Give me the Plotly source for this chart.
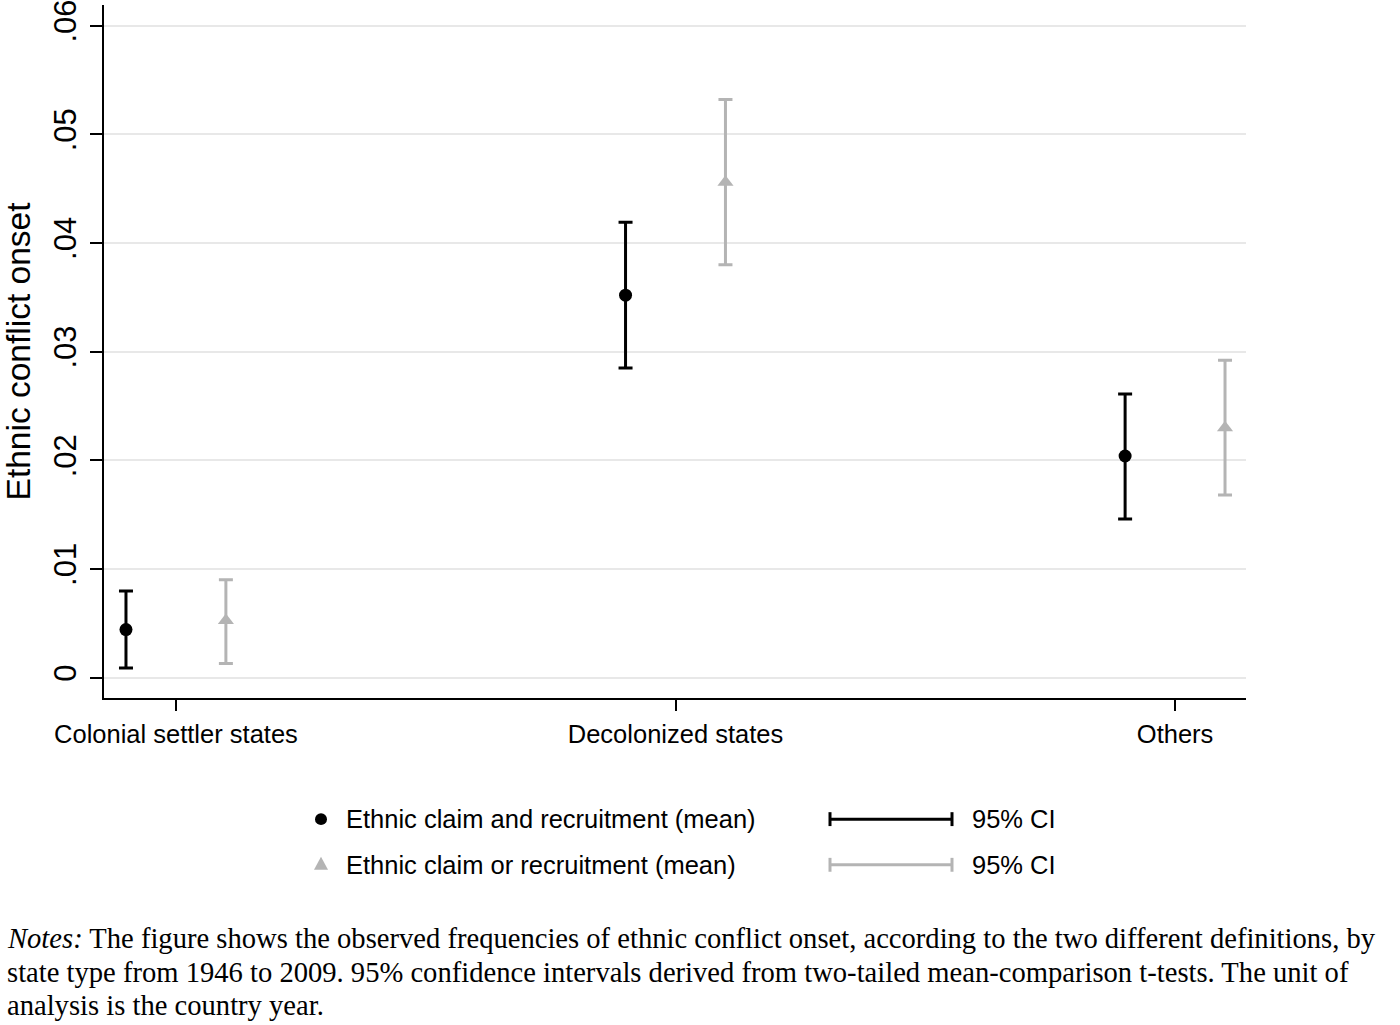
import plotly.graph_objects as go

# ---------------- data ----------------
categories = ["Colonial settler states", "Decolonized states", "Others"]
cat_pos = [1, 2, 3]
offset = 0.1

and_mean = [0.00443, 0.0352, 0.0204]
and_lo = [0.0009, 0.0285, 0.0146]
and_hi = [0.00797, 0.0419, 0.0261]

or_mean = [0.00526, 0.0456, 0.0230]
or_lo = [0.0013, 0.0380, 0.0168]
or_hi = [0.0090, 0.0532, 0.0292]

y_ticks = [0, 0.01, 0.02, 0.03, 0.04, 0.05, 0.06]
y_ticktext = ["0", ".01", ".02", ".03", ".04", ".05", ".06"]

legend_labels = ["Ethnic claim and recruitment (mean)", "Ethnic claim or recruitment (mean)"]
ci_label = "95% CI"
notes_lines = [
    "<i>Notes:</i> The figure shows the observed frequencies of ethnic conflict onset, according to the two different definitions, by",
    "state type from 1946 to 2009. 95% confidence intervals derived from two-tailed mean-comparison t-tests. The unit of",
    "analysis is the country year.",
]

BLACK = "#000000"
GRAY = "#b4b4b4"
FONT = "Liberation Sans, Arial, sans-serif"
SERIF = "Liberation Serif, Times New Roman, serif"

# ---------------- layout geometry ----------------
W, H = 1400, 1025
L, R, T, B = 104, 1400 - 1246, 0, 1025 - 698
PW, PH = W - L - R, H - T - B


def px(xpix):
    return (xpix - L) / PW


def py(ypix):
    return (H - B - ypix) / PH


fig = go.Figure()

xs_and = [c - offset for c in cat_pos]
xs_or = [c + offset for c in cat_pos]

fig.add_trace(go.Scatter(
    x=xs_and, y=and_mean, mode="markers",
    marker=dict(symbol="circle", size=13, color=BLACK),
    error_y=dict(type="data", symmetric=False,
                 array=[h - m for h, m in zip(and_hi, and_mean)],
                 arrayminus=[m - l for m, l in zip(and_mean, and_lo)],
                 color=BLACK, thickness=3, width=7),
    showlegend=False, hoverinfo="skip"))

fig.add_trace(go.Scatter(
    x=xs_or, y=or_mean, mode="markers",
    marker=dict(symbol="triangle-up", size=14, color=GRAY),
    error_y=dict(type="data", symmetric=False,
                 array=[h - m for h, m in zip(or_hi, or_mean)],
                 arrayminus=[m - l for m, l in zip(or_mean, or_lo)],
                 color=GRAY, thickness=3, width=7),
    showlegend=False, hoverinfo="skip"))

shapes = []
annotations = []

# legend: markers
cx, cy, r = 321, 820, 6
shapes.append(dict(type="circle", xref="paper", yref="paper",
                   x0=px(cx - r), x1=px(cx + r), y0=py(cy + r), y1=py(cy - r),
                   fillcolor=BLACK, line=dict(width=0)))
tx, ty = 321, 865
shapes.append(dict(type="path", xref="paper", yref="paper",
                   path=f"M {px(tx-7)},{py(ty+6)} L {px(tx+7)},{py(ty+6)} L {px(tx)},{py(ty-7)} Z",
                   fillcolor=GRAY, line=dict(width=0)))

# legend: CI samples
for yy, col in [(820, BLACK), (866, GRAY)]:
    shapes.append(dict(type="line", xref="paper", yref="paper",
                       x0=px(829), x1=px(953), y0=py(yy), y1=py(yy),
                       line=dict(color=col, width=3)))
    for xx in (830, 952):
        shapes.append(dict(type="line", xref="paper", yref="paper",
                           x0=px(xx), x1=px(xx), y0=py(yy - 7), y1=py(yy + 7),
                           line=dict(color=col, width=3)))

for lab, yy in zip(legend_labels, [820, 866]):
    annotations.append(dict(text=lab, xref="paper", yref="paper", x=px(344), y=py(yy),
                            xanchor="left", yanchor="middle", showarrow=False,
                            font=dict(family=FONT, size=25.5, color=BLACK)))
    annotations.append(dict(text=ci_label, xref="paper", yref="paper", x=px(970), y=py(yy),
                            xanchor="left", yanchor="middle", showarrow=False,
                            font=dict(family=FONT, size=25.5, color=BLACK)))

for line, yy in zip(notes_lines, [940, 974, 1008]):
    annotations.append(dict(text=line, xref="paper", yref="paper", x=px(5), y=py(yy),
                            xanchor="left", yanchor="middle", align="left", showarrow=False,
                            font=dict(family=SERIF, size=28.6, color=BLACK)))

fig.update_layout(
    width=W, height=H,
    margin=dict(l=L, r=R, t=T, b=B, pad=0),
    paper_bgcolor="white", plot_bgcolor="white",
    shapes=shapes, annotations=annotations,
    showlegend=False,
    font=dict(family=FONT, color=BLACK),
)

fig.update_xaxes(
    range=[0.856, 3.142], tickmode="array", tickvals=cat_pos, ticktext=categories,
    showgrid=False, zeroline=False, showline=True, linecolor=BLACK, linewidth=2,
    ticks="outside", ticklen=11, tickwidth=2, tickcolor=BLACK,
    tickfont=dict(family=FONT, size=25.5, color=BLACK), ticklabelstandoff=1,
)

fig.update_yaxes(
    range=[-0.00187, 0.0619], tickmode="array", tickvals=y_ticks, ticktext=y_ticktext,
    tickangle=-90, ticklabeloverflow="allow",
    showgrid=True, gridcolor="#e8e8e8", gridwidth=2, zeroline=False,
    showline=True, linecolor=BLACK, linewidth=2,
    ticks="outside", ticklen=12, tickwidth=2, tickcolor=BLACK,
    tickfont=dict(family=FONT, size=31, color=BLACK), ticklabelstandoff=2,
    title=dict(text="Ethnic conflict onset", font=dict(family=FONT, size=33.5, color=BLACK), standoff=22),
)

fig.write_html("out.html", config={"displayModeBar": False},
               post_script="document.body.style.margin='0';document.body.style.padding='0';")
